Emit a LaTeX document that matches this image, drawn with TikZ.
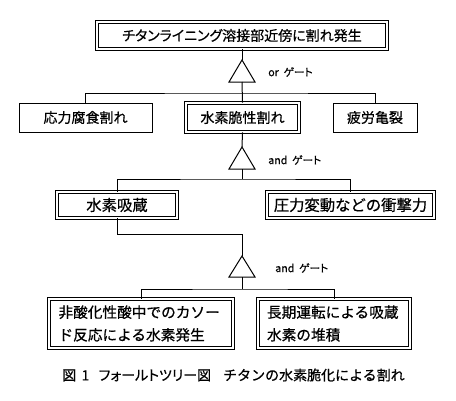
\documentclass[tikz,border=0pt]{standalone}
\usepackage{fontspec}
\setmainfont{Liberation Sans}
\newfontfamily\jpp[RawFeature=+palt, FakeBold=0.6]{Noto Sans CJK JP}
\newfontfamily\jp[FakeBold=0.6]{Noto Sans CJK JP}
\begin{document}
\begin{tikzpicture}[x=0.75pt,y=-0.75pt,
  box/.style={draw, line width=0.75pt, rectangle, inner sep=0pt, font=\jpp\fontsize{10.5}{13}\selectfont},
  dbox/.style={box, double, double distance=1.4pt, line width=0.7pt},
  wire/.style={line width=0.75pt},
  gate/.style={line width=0.75pt, line join=miter},
  lbl/.style={font=\jpp\fontsize{8}{10}\selectfont, anchor=west, inner sep=0pt},
  r3/.style={font=\jp\fontsize{11.5}{14}\selectfont},
  r4/.style={font=\jp\fontsize{11}{17}\selectfont, align=left, text width=165*0.75pt}]
\useasboundingbox (0,0) rectangle (456,400);

% boxes
\node[dbox, minimum width=290*0.75pt, minimum height=27*0.75pt] (top) at (242,35.5) {チタンライニング溶接部近傍に割れ発生};

\node[box, minimum width=133*0.75pt, minimum height=29*0.75pt] (a) at (85.5,117.5) {応力腐食割れ};
\node[dbox, minimum width=113*0.75pt, minimum height=29*0.75pt] (b) at (242.5,117.5) {水素脆性割れ};
\node[box, minimum width=84*0.75pt, minimum height=29*0.75pt] (c) at (375,117.5) {疲労亀裂};

\node[dbox, r3, minimum width=120*0.75pt, minimum height=26*0.75pt] (d) at (117,205) {水素吸蔵};
\node[dbox, r3, minimum width=167*0.75pt, minimum height=26*0.75pt] (e) at (350.5,205) {圧力変動などの衝撃力};

\node[dbox, r4, minimum width=178*0.75pt, minimum height=49*0.75pt, inner xsep=7pt] (f) at (141,323.5) {非酸化性酸中でのカソー\\ド反応による水素発生};
\node[dbox, r4, minimum width=152*0.75pt, minimum height=49*0.75pt, inner xsep=6.5pt, text width=134*0.75pt] (g) at (334,323.5) {長期運転による吸蔵\\水素の堆積};

% gate 1 (or)
\coordinate (g1a) at (242,60);
\coordinate (g1b) at (242,82);
\coordinate (bus1) at (242,93);
\draw[gate] (g1a) -- ++(-13,22) -- ++(26,0) -- cycle;
\node[lbl] (l1) at (268,72) {or\ \ ゲート};
\draw[wire] (top.south) -- (g1a);
\draw[wire] (g1b) -- (b.north);
\draw[wire] (a.north) |- (bus1) -| (c.north);

% gate 2 (and)
\coordinate (g2a) at (242,147);
\coordinate (g2b) at (242,169);
\coordinate (bus2) at (242,179);
\draw[gate] (g2a) -- ++(-13,22) -- ++(26,0) -- cycle;
\node[lbl] (l2) at (268,160) {and\ \ ゲート};
\draw[wire] (b.south) -- (g2a);
\draw[wire] (g2b) -- (bus2);
\draw[wire] (d.north) |- (bus2) -| (e.north);

% gate 3 (and)
\coordinate (g3a) at (242,256);
\coordinate (g3b) at (242,277);
\coordinate (bus3) at (242,289);
\coordinate (j3) at (242,234);
\draw[gate] (g3a) -- ++(-13,21) -- ++(26,0) -- cycle;
\node[lbl] (l3) at (275,268) {and\ \ ゲート};
\draw[wire] (d.south) |- (j3) -- (g3a);
\draw[wire] (g3b) -- (bus3);
\draw[wire] (f.north) |- (bus3) -| (g.north);

% caption
\node[anchor=west, inner sep=0pt, font=\jpp\fontsize{10.5}{12}\selectfont] (cap) at (62,375) {図\hspace{4pt}1\hspace{7pt}フォールトツリー図\hspace{9pt}{\jp チタンの水素脆化による割れ}};
\end{tikzpicture}
\end{document}
